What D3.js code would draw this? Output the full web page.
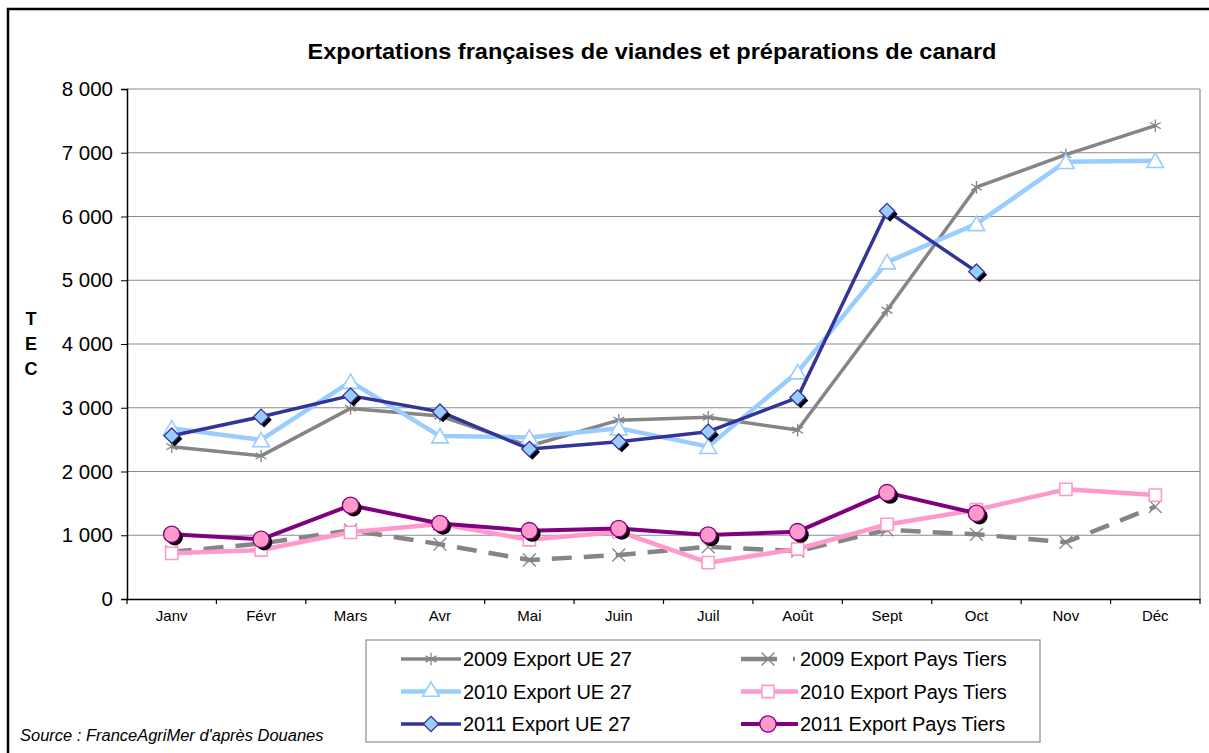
<!DOCTYPE html>
<html>
<head>
<meta charset="utf-8">
<script src="https://cdn.jsdelivr.net/npm/d3@7"></script>
<style>
  body { margin:0; background:#fff; font-family:"Liberation Sans", Arial, sans-serif; }
  svg text { font-family:"Liberation Sans", Arial, sans-serif; fill:#000; }
</style>
</head>
<body>
<div id="chart"></div>
<script>
// months + series (TEC)
const months = ["Janv","Févr","Mars","Avr","Mai","Juin","Juil","Août","Sept","Oct","Nov","Déc"];
const yTicks = [0,1000,2000,3000,4000,5000,6000,7000,8000];

const ue2009    = [2390,2245,2990,2870,2400,2805,2850,2650,4530,6460,6970,7425];
const tiers2009 = [740,870,1080,860,612,690,820,750,1085,1014,890,1450];
const ue2010    = [2680,2495,3410,2555,2535,2680,2390,3560,5285,5885,6860,6875];
const tiers2010 = [716,768,1046,1176,930,1056,570,784,1170,1400,1720,1630];
const ue2011    = [2562,2858,3190,2938,2353,2468,2625,3160,6085,5135];
const tiers2011 = [1015,936,1470,1185,1072,1105,1004,1056,1668,1344];

const W = 1209, H = 753;
const plot = { left:127, right:1200, top:89, bottom:599 };

const svg = d3.select("#chart").append("svg")
  .attr("width", W).attr("height", H);

// places a text at (x,y), optionally stretched sideways
const placed = (sel, x, y, sx) =>
  sel.attr("x", 0).attr("y", 0).attr("transform", `translate(${x},${y}) scale(${sx},1)`);

// outer frame
svg.append("rect").attr("x",8).attr("y",9).attr("width",W+20).attr("height",H+20)
  .attr("fill","none").attr("stroke","#000").attr("stroke-width",2.5);

const x = d3.scaleBand().domain(months).range([plot.left, plot.right]);
const y = d3.scaleLinear().domain([0, 8000]).range([plot.bottom, plot.top]);
const cx = m => x(m) + x.bandwidth()/2;

// gridlines
svg.append("g").selectAll("line").data(yTicks.slice(1)).enter().append("line")
  .attr("x1", plot.left).attr("x2", plot.right)
  .attr("y1", d => y(d)).attr("y2", d => y(d))
  .attr("stroke","#8c8c8c").attr("stroke-width",1.2);
// right border of plot
svg.append("line").attr("x1",plot.right).attr("x2",plot.right).attr("y1",plot.top).attr("y2",plot.bottom)
  .attr("stroke","#8c8c8c").attr("stroke-width",1.2);

// axes
const fmt = v => d3.format(",d")(v).replace(/,/g, " ");
const yAxis = svg.append("g").attr("transform", `translate(${plot.left},0)`)
  .call(d3.axisLeft(y).tickValues(yTicks).tickFormat(fmt).tickSize(6).tickPadding(8));
yAxis.select(".domain").attr("stroke","#000").attr("stroke-width",1.5);
yAxis.selectAll("text").style("font-size","20.5px");

const xAxis = svg.append("g").attr("transform", `translate(0,${plot.bottom})`)
  .call(d3.axisBottom(x).tickSize(0).tickPadding(11));
xAxis.select(".domain").attr("stroke","#000").attr("stroke-width",1.5);
xAxis.selectAll("text").style("font-size","15px");
// ticks between categories
svg.append("g").selectAll("line").data(d3.range(months.length + 1)).enter().append("line")
  .attr("x1", i => plot.left + i * x.step()).attr("x2", i => plot.left + i * x.step())
  .attr("y1", plot.bottom).attr("y2", plot.bottom + 5)
  .attr("stroke","#000").attr("stroke-width",1.2);

// title
svg.append("text").attr("text-anchor","middle")
  .style("font-size","22px").style("font-weight","bold")
  .text("Exportations françaises de viandes et préparations de canard")
  .call(placed, 652, 59, 1.07);

// T E C
svg.selectAll(".tec").data(["T","E","C"]).enter().append("text")
  .attr("x", 31).attr("y", (d,i) => 325 + i*25).attr("text-anchor","middle")
  .style("font-size","18px").style("font-weight","bold").text(d => d);

// source
svg.append("text")
  .style("font-size","16px").style("font-style","italic").text("Source : FranceAgriMer d'après Douanes")
  .call(placed, 20, 741, 1.03);

const series = [
  { name:"2009 Export UE 27", values:ue2009, color:"#858585", width:3.5, dash:null,
    sym:d3.symbolAsterisk, size:110, fill:"none", stroke:"#858585", sw:1.3, shadow:false },
  { name:"2009 Export Pays Tiers", values:tiers2009, color:"#858585", width:4.5, dash:"20,12",
    sym:d3.symbolTimes, size:110, fill:"none", stroke:"#858585", sw:1.3, shadow:false },
  { name:"2010 Export UE 27", values:ue2010, color:"#99ccff", width:4.5, dash:null,
    sym:d3.symbolTriangle, size:120, fill:"#fff", stroke:"#99ccff", sw:1.6, shadow:false },
  { name:"2010 Export Pays Tiers", values:tiers2010, color:"#ff99cc", width:4.5, dash:null,
    sym:d3.symbolSquare, size:150, fill:"#fff", stroke:"#ff99cc", sw:1.6, shadow:false },
  { name:"2011 Export UE 27", values:ue2011, color:"#333399", width:3.5, dash:null,
    sym:d3.symbolDiamond2, size:150, fill:"#99ccff", stroke:"#333399", sw:1.3, shadow:true },
  { name:"2011 Export Pays Tiers", values:tiers2011, color:"#800080", width:4, dash:null,
    sym:d3.symbolCircle, size:210, fill:"#ff99cc", stroke:"#800080", sw:1.3, shadow:true }
];

const line = d3.line().x((d,i) => cx(months[i])).y(d => y(d));

series.forEach(s => {
  const g = svg.append("g");
  g.append("path").attr("d", line(s.values)).attr("fill","none")
    .attr("stroke", s.color).attr("stroke-width", s.width)
    .attr("stroke-dasharray", s.dash).attr("stroke-linejoin","round");
  const sym = d3.symbol().type(s.sym).size(s.size);
  if (s.shadow) {
    g.selectAll(".sh").data(s.values).enter().append("path")
      .attr("d", sym).attr("fill","#000")
      .attr("transform", (d,i) => `translate(${cx(months[i]) + 3},${y(d) + 3})`);
  }
  g.selectAll(".mk").data(s.values).enter().append("path")
    .attr("d", sym).attr("fill", s.fill).attr("stroke", s.stroke).attr("stroke-width", s.sw)
    .attr("transform", (d,i) => `translate(${cx(months[i])},${y(d) + (s.sym === d3.symbolTriangle ? 2 : 0)})`);
});

// legend
const lg = svg.append("g");
lg.append("rect").attr("x",366).attr("y",640).attr("width",674).attr("height",102)
  .attr("fill","#fff").attr("stroke","#8c8c8c").attr("stroke-width",1.2);
const order = [0,2,4,1,3,5];
order.forEach((si, k) => {
  const s = series[si];
  const col = Math.floor(k/3), row = k % 3;
  const x0 = col === 0 ? 401 : 741, x1 = col === 0 ? 461 : 798;
  const yy = 659 + row * 32.5;
  if (s.dash) {
    lg.append("line").attr("x1",x0).attr("x2",x0+36).attr("y1",yy).attr("y2",yy)
      .attr("stroke",s.color).attr("stroke-width",s.width);
    lg.append("line").attr("x1",x0+52).attr("x2",x0+54).attr("y1",yy).attr("y2",yy)
      .attr("stroke",s.color).attr("stroke-width",s.width);
  } else {
    lg.append("line").attr("x1",x0).attr("x2",x1).attr("y1",yy).attr("y2",yy)
      .attr("stroke",s.color).attr("stroke-width",s.width);
  }
  lg.append("path").attr("d", d3.symbol().type(s.sym).size(s.size)())
    .attr("fill", s.fill).attr("stroke", s.stroke).attr("stroke-width", s.sw)
    .attr("transform", `translate(${col === 0 ? 431 : 768},${yy})`);
  lg.append("text").style("font-size","20px").text(s.name)
    .call(placed, x1 + 2, yy + 7, 1);
});
</script>
</body>
</html>
